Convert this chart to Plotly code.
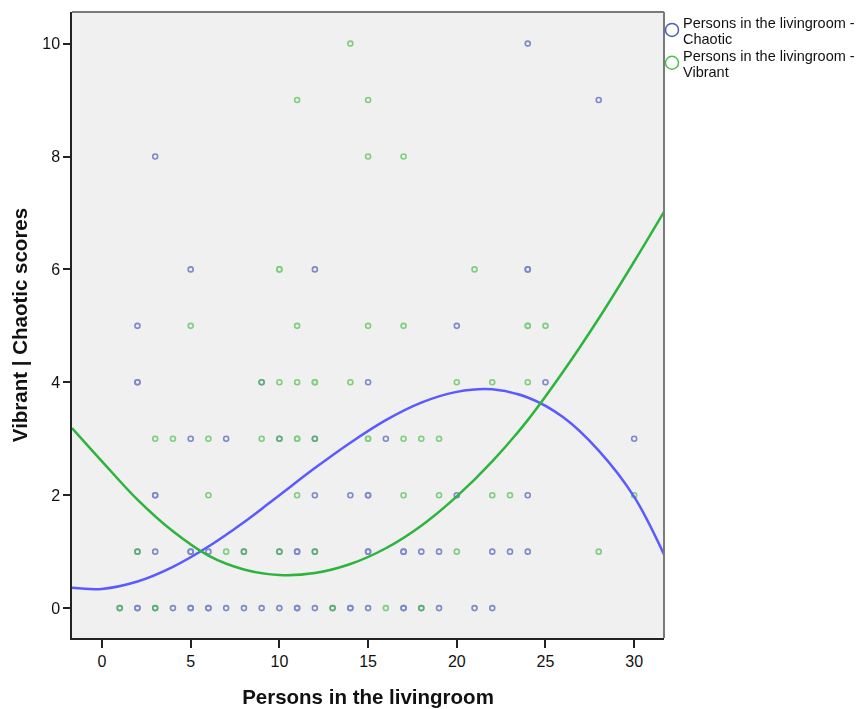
import plotly.graph_objects as go

# ---- data ----
chaotic_x = [24, 28, 3, 5, 12, 24, 24, 2, 20, 2, 2, 9, 15, 25,
             5, 7, 10, 12, 16, 30,
             3, 3, 12, 14, 15, 15, 20, 24,
             2, 3, 5, 5, 6, 8, 10, 11, 11, 12, 15, 15, 17, 17, 18, 19, 22, 23, 24,
             1, 2, 2, 3, 4, 5, 5, 6, 6, 7, 8, 9, 10, 11, 11, 12, 13, 14, 14, 15, 17, 17, 18, 19, 21, 22]
chaotic_y = [10, 9, 8, 6, 6, 6, 6, 5, 5, 4, 4, 4, 4, 4,
             3, 3, 3, 3, 3, 3,
             2, 2, 2, 2, 2, 2, 2, 2,
             1, 1, 1, 1, 1, 1, 1, 1, 1, 1, 1, 1, 1, 1, 1, 1, 1, 1, 1,
             0, 0, 0, 0, 0, 0, 0, 0, 0, 0, 0, 0, 0, 0, 0, 0, 0, 0, 0, 0, 0, 0, 0, 0, 0, 0]

vibrant_x = [14, 11, 15, 15, 17, 10, 10, 21,
             5, 11, 15, 17, 24, 24, 25,
             9, 10, 11, 12, 12, 14, 20, 22, 24,
             3, 4, 6, 9, 10, 11, 11, 12, 15, 15, 17, 18, 19,
             6, 11, 17, 19, 22, 23, 30,
             2, 7, 8, 10, 12, 20, 28,
             1, 3, 13, 16, 18]
vibrant_y = [10, 9, 9, 8, 8, 6, 6, 6,
             5, 5, 5, 5, 5, 5, 5,
             4, 4, 4, 4, 4, 4, 4, 4, 4,
             3, 3, 3, 3, 3, 3, 3, 3, 3, 3, 3, 3, 3,
             2, 2, 2, 2, 2, 2, 2,
             1, 1, 1, 1, 1, 1, 1,
             0, 0, 0, 0, 0]

# fit curves
fit_x = [-1.69, 0, 2, 4, 6, 8, 10, 12, 14, 16, 18, 20, 22, 24, 26, 28, 30, 31.68]
chaotic_fit_y = [0.36, 0.34, 0.47, 0.73, 1.09, 1.52, 2.0, 2.48, 2.93, 3.33, 3.64, 3.83, 3.875,
                 3.73, 3.38, 2.79, 1.97, 0.95]
vibrant_fit_y = [3.19, 2.60, 1.92, 1.36, 0.93, 0.685, 0.585, 0.62, 0.78, 1.06, 1.46, 1.98, 2.60,
                 3.33, 4.19, 5.13, 6.14, 7.02]

x_ticks = [0, 5, 10, 15, 20, 25, 30]
y_ticks = [0, 2, 4, 6, 8, 10]
legend_names = [("Persons in the livingroom -", "Chaotic"),
                ("Persons in the livingroom -", "Vibrant")]

BLUE_PT = "#4d5db8"
GREEN_PT = "#4cc04c"
BLUE_LINE = "#5a5aff"
GREEN_LINE = "#2cb43c"
TICK_FONT = "Liberation Sans Narrow, Arial Narrow, Liberation Sans, Arial, sans-serif"
TEXT_FONT = "Liberation Sans, Arial, sans-serif"

fig = go.Figure()
fig.add_trace(go.Scatter(x=chaotic_x, y=chaotic_y, mode="markers", showlegend=False,
                         marker=dict(symbol="circle-open", size=5, color=BLUE_PT,
                                     line=dict(width=1.6, color=BLUE_PT)), opacity=0.7))
fig.add_trace(go.Scatter(x=vibrant_x, y=vibrant_y, mode="markers", showlegend=False,
                         marker=dict(symbol="circle-open", size=5, color=GREEN_PT,
                                     line=dict(width=1.6, color=GREEN_PT)), opacity=0.7))
fig.add_trace(go.Scatter(x=fit_x, y=chaotic_fit_y, mode="lines", showlegend=False,
                         line=dict(color=BLUE_LINE, width=2.5, shape="spline", smoothing=1.0)))
fig.add_trace(go.Scatter(x=fit_x, y=vibrant_fit_y, mode="lines", showlegend=False,
                         line=dict(color=GREEN_LINE, width=2.5, shape="spline", smoothing=1.0)))

OFF = 8  # page body margin
W, H = 867 - OFF, 709 - OFF
L, R, T, B = 72 - OFF, 664 - OFF, 12 - OFF, 641 - OFF
pw, ph = R - L, B - T


def px_to_paper(px, py):
    # px, py in reference-picture pixels
    return (px - OFF - L) / pw, (B - (py - OFF)) / ph


shapes = [
    dict(type="line", xref="paper", yref="paper", x0=0, x1=1, y0=1, y1=1,
         line=dict(color="#7a7a7a", width=2)),
    dict(type="line", xref="paper", yref="paper", x0=1, x1=1, y0=0, y1=1,
         line=dict(color="#7a7a7a", width=2)),
]
annotations = []
legend_cols = [BLUE_PT, GREEN_PT]
legend_y = [30, 63]
for (l1, l2), col, cy in zip(legend_names, legend_cols, legend_y):
    x0, y0 = px_to_paper(665.5, cy + 6.5)
    x1, y1 = px_to_paper(678.5, cy - 6.5)
    shapes.append(dict(type="circle", xref="paper", yref="paper", x0=x0, x1=x1, y0=y0, y1=y1,
                       line=dict(color=col, width=1.5)))
    ax, ay = px_to_paper(681, cy - 7)
    annotations.append(dict(text=l1, xref="paper", yref="paper", x=ax, y=ay, xanchor="left",
                            yanchor="middle", showarrow=False,
                            font=dict(family=TEXT_FONT, size=14.5, color="#111")))
    ax, ay = px_to_paper(681, cy + 9)
    annotations.append(dict(text=l2, xref="paper", yref="paper", x=ax, y=ay, xanchor="left",
                            yanchor="middle", showarrow=False,
                            font=dict(family=TEXT_FONT, size=14.5, color="#111")))

fig.update_layout(
    width=W, height=H,
    margin=dict(l=L, r=W - R, t=T, b=H - B),
    paper_bgcolor="white", plot_bgcolor="#f0f0f0",
    showlegend=False,
    shapes=shapes, annotations=annotations,
)
fig.update_xaxes(range=[-1.69, 31.68], tickvals=x_ticks, ticks="outside", ticklen=8,
                 tickwidth=1.5, tickcolor="#222", showline=True, linecolor="#222", linewidth=1.5,
                 showgrid=False, zeroline=False,
                 tickfont=dict(family=TICK_FONT, size=16, color="#111"),
                 title=dict(text="<b>Persons in the livingroom</b>", standoff=21,
                            font=dict(family=TEXT_FONT, size=20.5, color="#111")))
fig.update_yaxes(range=[-0.53, 10.56], tickvals=y_ticks, ticks="outside", ticklen=7,
                 tickwidth=1.5, tickcolor="#222", showline=True, linecolor="#222", linewidth=1.5,
                 showgrid=False, zeroline=False,
                 tickfont=dict(family=TICK_FONT, size=16, color="#111"),
                 title=dict(text="<b>Vibrant | Chaotic scores</b>", standoff=9,
                            font=dict(family=TEXT_FONT, size=20.5, color="#111")))

fig.write_html("out.html")
